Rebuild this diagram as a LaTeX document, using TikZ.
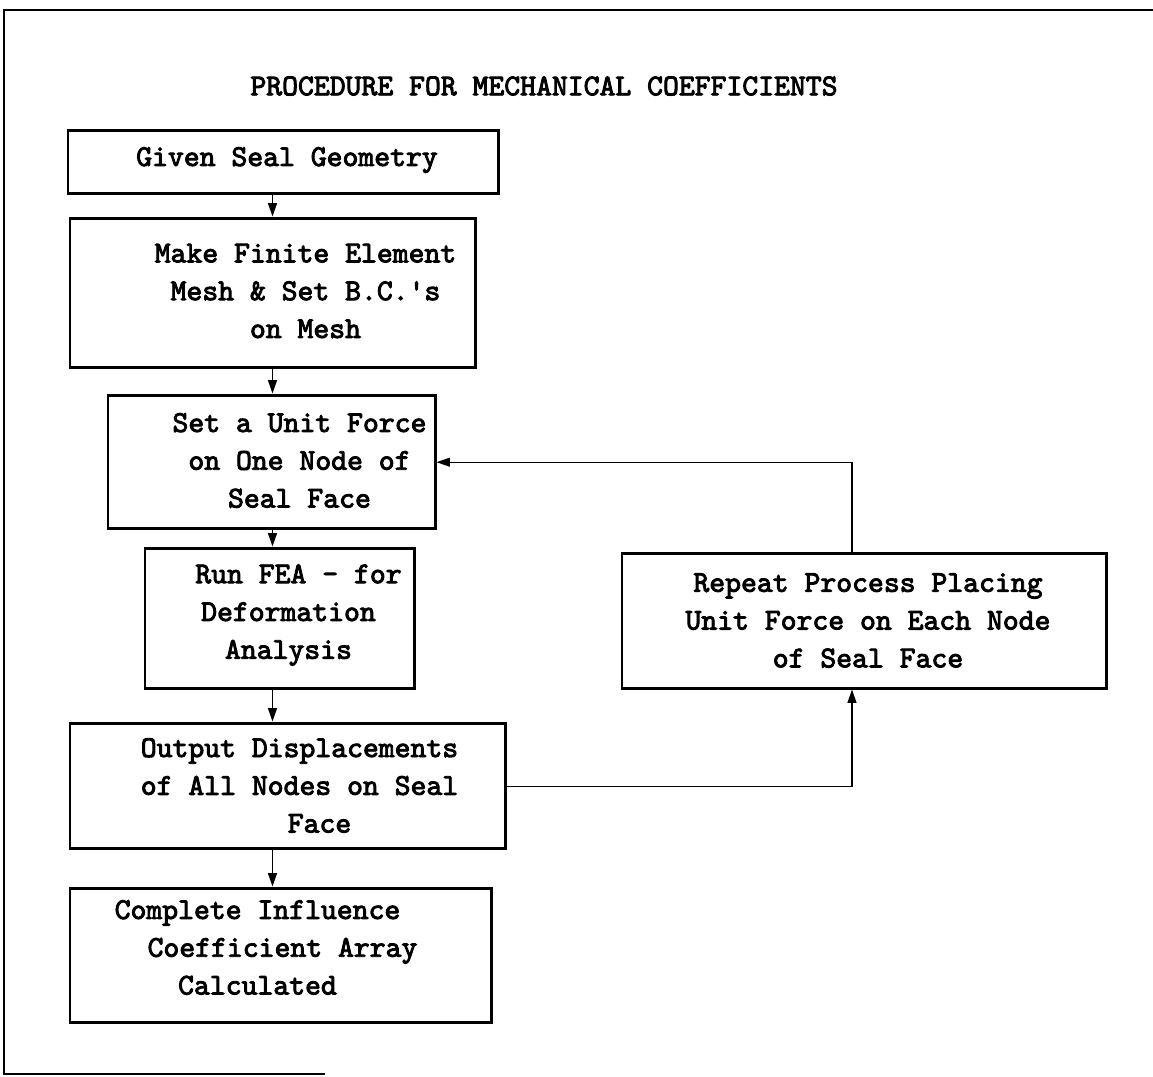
\documentclass[tikz,border=0pt]{standalone}
\usepackage{fontspec}
\setmonofont{lmmono10-regular}[Extension=.otf, FakeBold=3]
\usetikzlibrary{arrows.meta}

\newcommand{\flowfont}{\ttfamily\fontsize{17.2}{21.5}\selectfont}
\tikzset{
  stepbox/.style={draw, line width=1.7pt, inner sep=0pt},
  flow/.style={line width=0.9pt, -{Triangle[length=0.27cm,width=0.18cm]}},
  every label/.style={align=center, font=\flowfont},
}

\begin{document}
\begin{tikzpicture}[scale=0.2]
\useasboundingbox (0,0) rectangle (115.3,-107.6);

% frame
\draw [line width=1.4pt] (115.3,-1) -- (0.4,-1) -- (0.4,-107.4) -- (32.5,-107.4);

\node [font=\flowfont] (title) at (54.4,-8.6) {PROCEDURE FOR MECHANICAL COEFFICIENTS};

\node [stepbox, minimum width=8.6cm, minimum height=1.26cm,
  label={[xshift=0.08cm,yshift=0.03cm]center:Given Seal Geometry}] (geom) at (28.3,-16.15) {};

\node [stepbox, minimum width=8.1cm, minimum height=2.98cm,
  label={[xshift=0.66cm,yshift=0.03cm]center:{Make Finite Element\\Mesh \& Set B.C.'s\\on Mesh}}] (mesh) at (27.25,-29.25) {};

\node [stepbox, minimum width=6.54cm, minimum height=2.66cm,
  label={[xshift=0.56cm,yshift=0.02cm]center:{Set a Unit Force\\on One Node of\\Seal Face}}] (unit) at (27.15,-46.15) {};

\node [stepbox, minimum width=5.38cm, minimum height=2.8cm,
  label={[xshift=0.18cm,yshift=0.06cm]center:{\hspace*{0.4cm}Run FEA - for\\Deformation\\Analysis}}] (fea) at (27.95,-61.8) {};

\node [stepbox, minimum width=8.7cm, minimum height=2.5cm,
  label={[xshift=0.24cm]center:{Output Displacements\\of All Nodes on Seal\\\hspace*{0.8cm}Face}}] (out) at (28.75,-78.55) {};

\node [stepbox, minimum width=8.42cm, minimum height=2.68cm,
  label={[xshift=-0.46cm,yshift=0.15cm]center:{Complete Influence\\\hspace*{1cm}Coefficient Array\\Calculated}}] (compl) at (28.05,-95.5) {};

\node [stepbox, minimum width=9.68cm, minimum height=2.7cm,
  label={[xshift=0.08cm]center:{Repeat Process Placing\\Unit Force on Each Node\\of Seal Face}}] (repeat) at (86.4,-62.05) {};

% main chain
\coordinate (spine) at (27.25,0);
\draw [flow] (geom.south -| spine) -- (mesh.north -| spine);
\draw [flow] (mesh.south -| spine) -- (unit.north -| spine);
\draw [flow] (unit.south -| spine) -- (fea.north -| spine);
\draw [flow] (fea.south -| spine) -- (out.north -| spine);
\draw [flow] (out.south -| spine) -- (compl.north -| spine);

% loop back
\coordinate (loop) at (85.2,0);
\draw [flow, line width=0.7pt] ([yshift=-0.09cm]out.east) -| (repeat.south -| loop);
\draw [flow, line width=0.7pt] (repeat.north -| loop) |- ([yshift=-0.07cm]unit.east);
\end{tikzpicture}
\end{document}
